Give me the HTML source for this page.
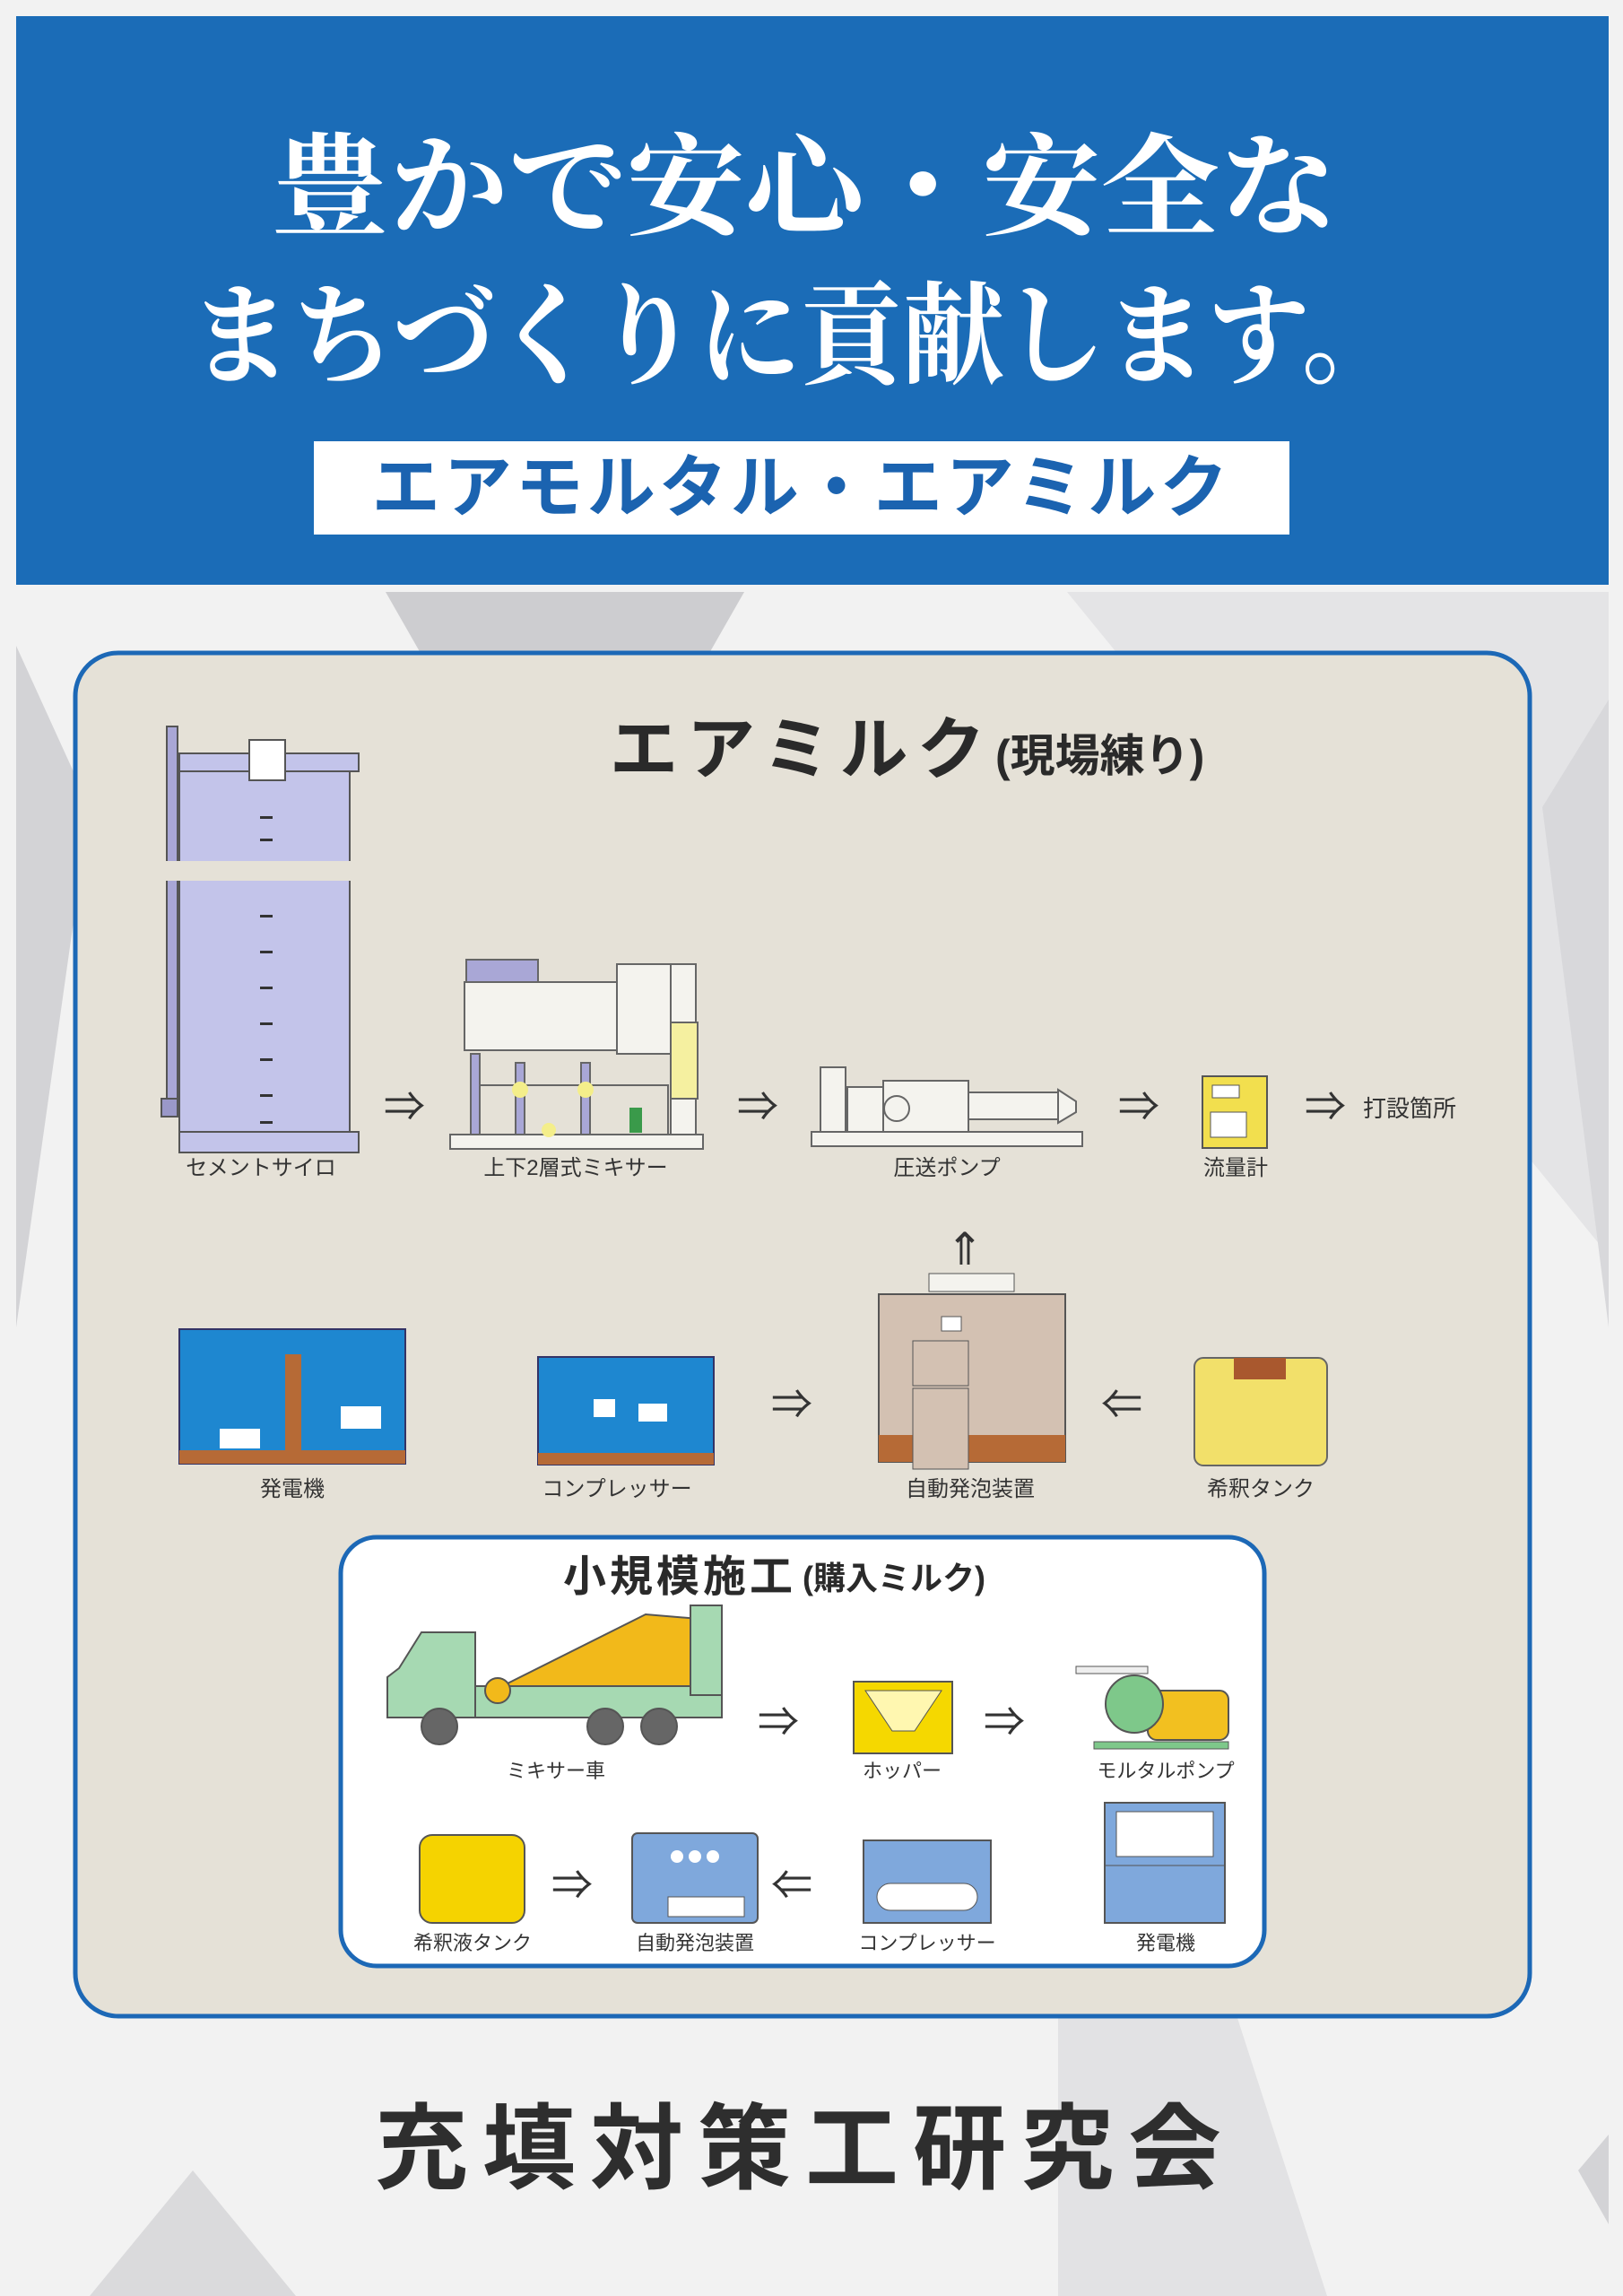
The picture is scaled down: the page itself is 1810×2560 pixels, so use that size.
<!DOCTYPE html>
<html><head><meta charset="utf-8"><style>
html,body{margin:0;padding:0;background:#f1f1f1;}
svg{display:block}
.s{font-family:"Liberation Sans","Noto Sans CJK JP",sans-serif}
.m{font-family:"Liberation Serif","Noto Serif CJK SC",serif}
</style></head><body>
<svg width="1810" height="2560" viewBox="0 0 1810 2560" xmlns="http://www.w3.org/2000/svg">
<rect width="1810" height="2560" fill="#f2f2f2"/>
<!-- background triangles -->
<polygon points="430,660 830,660 790,730 470,730" fill="#cdcdd0"/>
<polygon points="1190,660 1794,660 1794,1400" fill="#e4e4e6"/>
<polygon points="18,720 100,900 18,1480" fill="#d3d3d6"/>
<polygon points="1720,900 1794,780 1794,1480" fill="#d8d8db"/>
<polygon points="1180,2250 1380,2250 1480,2560 1180,2560" fill="#e2e2e4"/>
<polygon points="100,2560 215,2420 330,2560" fill="#dadadc"/>
<polygon points="1760,2420 1794,2380 1794,2480" fill="#d3d3d6"/>
<!-- header -->
<rect x="18" y="18" width="1776" height="634" fill="#1b6cb7"/>
<text x="302" y="252" textLength="1190" lengthAdjust="spacingAndGlyphs" class="m" font-size="124" font-weight="700" fill="#fff">豊かで安心・安全な</text>
<text x="212" y="418" textLength="1353" lengthAdjust="spacingAndGlyphs" class="m" font-size="124" font-weight="700" fill="#fff">まちづくりに貢献します。</text>
<rect x="350" y="492" width="1088" height="104" fill="#fff"/>
<text x="894" y="570" text-anchor="middle" class="s" font-size="76" font-weight="700" fill="#1b63b0" letter-spacing="4">エアモルタル・エアミルク</text>
<!-- main panel -->
<rect x="84" y="728" width="1622" height="1520" rx="48" fill="#e5e1d7" stroke="#1c68b6" stroke-width="5"/>
<text x="680" y="862" class="s" font-size="76" font-weight="700" fill="#2a2a2a" letter-spacing="10">エアミルク</text>
<text x="1110" y="860" class="s" font-size="50" font-weight="700" fill="#2a2a2a">(現場練り)</text>
<!-- silo -->
<g stroke="#555" stroke-width="2">
<rect x="186" y="810" width="12" height="420" fill="#a9a7d6"/>
<rect x="200" y="845" width="190" height="440" fill="#c3c4ea"/>
<rect x="200" y="840" width="200" height="20" fill="#c3c4ea"/>
<rect x="200" y="1262" width="200" height="23" fill="#c3c4ea"/>
<rect x="278" y="825" width="40" height="45" fill="#fff"/>
<rect x="180" y="1225" width="18" height="20" fill="#9a98c8"/>
</g>
<rect x="180" y="960" width="225" height="22" fill="#e5e1d7"/>
<g fill="#333"><rect x="290" y="910" width="14" height="3"/><rect x="290" y="935" width="14" height="3"/><rect x="290" y="1020" width="14" height="3"/><rect x="290" y="1060" width="14" height="3"/><rect x="290" y="1100" width="14" height="3"/><rect x="290" y="1140" width="14" height="3"/><rect x="290" y="1180" width="14" height="3"/><rect x="290" y="1220" width="14" height="3"/><rect x="290" y="1250" width="14" height="3"/></g>
<text x="291" y="1310" text-anchor="middle" class="s" font-size="24" fill="#333">セメントサイロ</text>
<!-- mixer -->
<g stroke="#666" stroke-width="2">
<rect x="502" y="1265" width="282" height="16" fill="#f4f3ee"/>
<rect x="518" y="1095" width="170" height="76" fill="#f4f3ee"/>
<rect x="688" y="1075" width="60" height="100" fill="#f4f3ee"/>
<rect x="748" y="1075" width="28" height="190" fill="#f4f3ee"/>
<rect x="748" y="1140" width="30" height="85" fill="#f5f0a0"/>
<rect x="520" y="1070" width="80" height="25" fill="#a9a7d6"/>
<rect x="525" y="1175" width="10" height="90" fill="#a9a7d6"/>
<rect x="575" y="1185" width="10" height="80" fill="#a9a7d6"/>
<rect x="648" y="1185" width="10" height="80" fill="#a9a7d6"/>
<rect x="535" y="1210" width="210" height="55" fill="none"/>
</g>
<circle cx="580" cy="1215" r="9" fill="#f4ee8a"/><circle cx="653" cy="1215" r="9" fill="#f4ee8a"/><circle cx="612" cy="1260" r="8" fill="#f4ee8a"/>
<rect x="702" y="1235" width="14" height="28" fill="#3a9a4a"/>
<text x="642" y="1310" text-anchor="middle" class="s" font-size="24" fill="#333">上下2層式ミキサー</text>
<!-- pump -->
<g stroke="#666" stroke-width="2" fill="#f4f3ee">
<rect x="905" y="1262" width="302" height="16"/>
<rect x="915" y="1190" width="28" height="72"/>
<rect x="945" y="1212" width="70" height="50"/>
<rect x="985" y="1205" width="95" height="57"/>
<rect x="1080" y="1218" width="100" height="30"/>
<polygon points="1180,1215 1200,1228 1200,1240 1180,1252"/>
<circle cx="1000" cy="1236" r="14"/>
</g>
<text x="1056" y="1310" text-anchor="middle" class="s" font-size="24" fill="#333">圧送ポンプ</text>
<!-- flow meter -->
<rect x="1341" y="1200" width="72" height="80" fill="#f2df4e" stroke="#555" stroke-width="2"/>
<rect x="1350" y="1240" width="40" height="28" fill="#fff" stroke="#555"/>
<rect x="1352" y="1210" width="30" height="14" fill="#fff" stroke="#555"/>
<text x="1378" y="1310" text-anchor="middle" class="s" font-size="24" fill="#333">流量計</text>
<!-- arrows row1 -->
<g class="s" font-size="46" fill="#333">
<text x="428" y="1250">⇒</text><text x="822" y="1250">⇒</text><text x="1247" y="1250">⇒</text><text x="1455" y="1250">⇒</text>
</g>
<text x="1520" y="1245" class="s" font-size="26" fill="#333">打設箇所</text>
<text x="1076" y="1410" text-anchor="middle" class="s" font-size="50" fill="#333">⇑</text>
<!-- row2 -->
<rect x="200" y="1482" width="252" height="150" fill="#1e87d0" stroke="#336" stroke-width="2"/>
<rect x="200" y="1617" width="252" height="15" fill="#b66a36"/>
<rect x="318" y="1510" width="18" height="110" fill="#b66a36"/>
<rect x="380" y="1568" width="45" height="25" fill="#fff"/>
<rect x="245" y="1593" width="45" height="22" fill="#fff"/>
<text x="326" y="1668" text-anchor="middle" class="s" font-size="24" fill="#333">発電機</text>
<rect x="600" y="1513" width="196" height="120" fill="#1e87d0" stroke="#336" stroke-width="2"/>
<rect x="600" y="1620" width="196" height="13" fill="#b66a36"/>
<rect x="662" y="1560" width="24" height="20" fill="#fff"/><rect x="712" y="1565" width="32" height="20" fill="#fff"/>
<text x="688" y="1668" text-anchor="middle" class="s" font-size="24" fill="#333">コンプレッサー</text>
<rect x="980" y="1443" width="208" height="187" fill="#d3c1b2" stroke="#555" stroke-width="2"/>
<rect x="980" y="1600" width="208" height="30" fill="#b66a36"/>
<rect x="1018" y="1495" width="62" height="50" fill="#d3c1b2" stroke="#555"/>
<rect x="1018" y="1548" width="62" height="90" fill="#d3c1b2" stroke="#555"/>
<rect x="1050" y="1468" width="22" height="16" fill="#fff" stroke="#555"/>
<rect x="1036" y="1420" width="95" height="20" fill="#f4f3ee" stroke="#555"/>
<text x="1082" y="1668" text-anchor="middle" class="s" font-size="24" fill="#333">自動発泡装置</text>
<rect x="1332" y="1514" width="148" height="120" rx="10" fill="#f2e06a" stroke="#666" stroke-width="2"/>
<rect x="1376" y="1514" width="58" height="24" fill="#a9582e"/>
<text x="1406" y="1668" text-anchor="middle" class="s" font-size="24" fill="#333">希釈タンク</text>
<g class="s" font-size="46" fill="#333"><text x="860" y="1582">⇒</text><text x="1228" y="1582">⇐</text></g>
<!-- small box -->
<rect x="380" y="1714" width="1030" height="478" rx="40" fill="#fff" stroke="#1c68b6" stroke-width="5"/>
<text x="628" y="1774" class="s" font-size="48" font-weight="700" fill="#2a2a2a" letter-spacing="4">小規模施工</text>
<text x="895" y="1772" class="s" font-size="36" font-weight="700" fill="#2a2a2a">(購入ミルク)</text>
<!-- truck -->
<g stroke="#555" stroke-width="2">
<polygon points="445,1860 470,1820 530,1820 530,1915 432,1915 432,1870" fill="#a6d9b2"/>
<rect x="530" y="1880" width="275" height="35" fill="#a6d9b2"/>
<polygon points="560,1880 720,1800 780,1805 790,1880" fill="#f2b91a"/>
<rect x="770" y="1790" width="35" height="100" fill="#a6d9b2"/>
<circle cx="490" cy="1925" r="20" fill="#666"/><circle cx="675" cy="1925" r="20" fill="#666"/><circle cx="735" cy="1925" r="20" fill="#666"/>
<circle cx="555" cy="1885" r="14" fill="#f2b91a"/>
</g>
<text x="620" y="1982" text-anchor="middle" class="s" font-size="22" fill="#333">ミキサー車</text>
<rect x="952" y="1875" width="110" height="80" fill="#f5d800" stroke="#555" stroke-width="2"/>
<polygon points="965,1885 1050,1885 1020,1930 995,1930" fill="#fff7b0" stroke="#555"/>
<text x="1006" y="1982" text-anchor="middle" class="s" font-size="22" fill="#333">ホッパー</text>
<rect x="1280" y="1885" width="90" height="55" rx="10" fill="#f2c020" stroke="#555" stroke-width="2"/>
<circle cx="1265" cy="1900" r="32" fill="#7ec88a" stroke="#555" stroke-width="2"/>
<rect x="1200" y="1858" width="80" height="8" fill="#eee" stroke="#555"/>
<rect x="1220" y="1942" width="150" height="8" fill="#7ec88a" stroke="#555"/>
<text x="1300" y="1982" text-anchor="middle" class="s" font-size="22" fill="#333">モルタルポンプ</text>
<g class="s" font-size="46" fill="#333"><text x="845" y="1936">⇒</text><text x="1097" y="1936">⇒</text></g>
<!-- row4 -->
<rect x="468" y="2046" width="117" height="98" rx="14" fill="#f5d300" stroke="#555" stroke-width="2"/>
<text x="527" y="2174" text-anchor="middle" class="s" font-size="22" fill="#333">希釈液タンク</text>
<rect x="705" y="2044" width="140" height="100" rx="6" fill="#7fa8dc" stroke="#555" stroke-width="2"/>
<circle cx="755" cy="2070" r="7" fill="#fff"/><circle cx="775" cy="2070" r="7" fill="#fff"/><circle cx="795" cy="2070" r="7" fill="#fff"/>
<rect x="745" y="2115" width="85" height="22" fill="#fff" stroke="#555"/>
<text x="775" y="2174" text-anchor="middle" class="s" font-size="22" fill="#333">自動発泡装置</text>
<rect x="963" y="2052" width="142" height="92" fill="#7fa8dc" stroke="#555" stroke-width="2"/>
<rect x="978" y="2100" width="112" height="30" rx="15" fill="#fff" stroke="#555"/>
<text x="1034" y="2174" text-anchor="middle" class="s" font-size="22" fill="#333">コンプレッサー</text>
<rect x="1232" y="2010" width="134" height="134" fill="#7fa8dc" stroke="#555" stroke-width="2"/>
<rect x="1245" y="2020" width="108" height="50" fill="#fff" stroke="#555"/>
<line x1="1232" y1="2080" x2="1366" y2="2080" stroke="#555"/>
<text x="1300" y="2174" text-anchor="middle" class="s" font-size="22" fill="#333">発電機</text>
<g class="s" font-size="46" fill="#333"><text x="615" y="2118">⇒</text><text x="860" y="2118">⇐</text></g>
<!-- footer -->
<text x="898" y="2432" text-anchor="middle" class="s" font-size="104" font-weight="700" fill="#2e2e2e" letter-spacing="16">充填対策工研究会</text>
</svg>
</body></html>
